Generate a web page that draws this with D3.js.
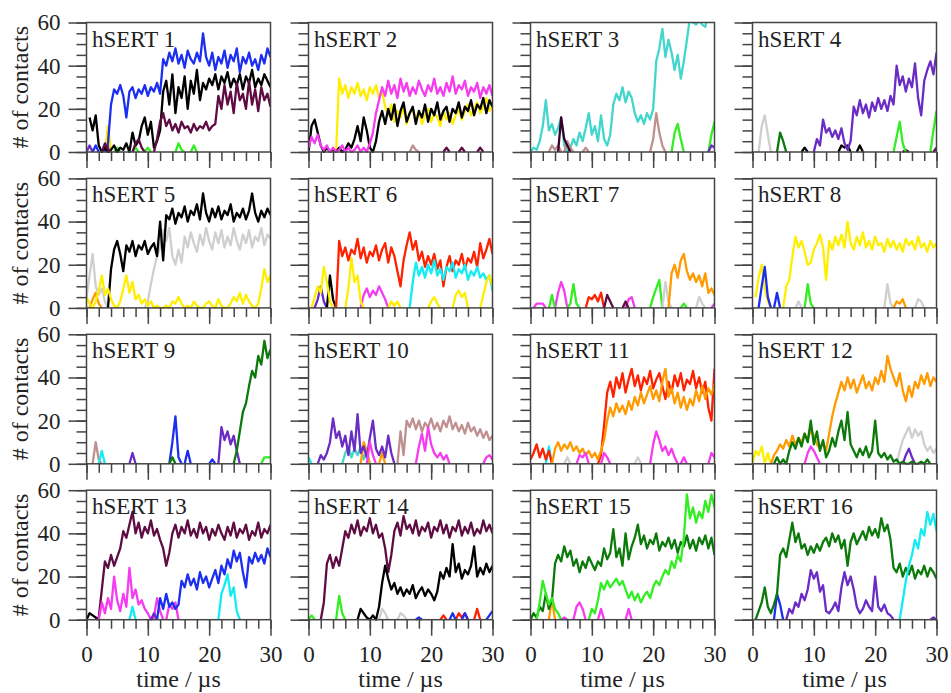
<!DOCTYPE html>
<html>
<head>
<meta charset="utf-8">
<script src="https://cdn.jsdelivr.net/npm/d3@7"></script>
<style>
  body { margin: 0; background: #fff; }
</style>
</head>
<body>
<div id="chart"></div>
<script>
// values, one sample every dt microseconds from a start time
// each series: [colour key, start time (us), values]
var dt = 0.5;

var titles = ["hSERT 1", "hSERT 2", "hSERT 3", "hSERT 4", "hSERT 5", "hSERT 6", "hSERT 7", "hSERT 8",
              "hSERT 9", "hSERT 10", "hSERT 11", "hSERT 12", "hSERT 13", "hSERT 14", "hSERT 15", "hSERT 16"];
var xTicks = [0, 10, 20, 30];
var xMinor = [0, 2, 4, 6, 8, 10, 12, 14, 16, 18, 20, 22, 24, 26, 28, 30];
var yTicks = [0, 20, 40, 60];
var yMinor = [0, 5, 10, 15, 20, 25, 30, 35, 40, 45, 50, 55, 60];

var p1 = [
  ["green", 4.5, [0, 2, 0]], ["green", 7.5, [0, 2, 0]], ["green", 9.5, [0, 2, 0]],
  ["green", 14.5, [0, 4, 1, 0]], ["green", 17, [0, 3, 0]],
  ["purple", 0, [0, 3, 0]], ["purple", 3, [0, 3, 0]],
  ["yellow", 3, [0, 12, 0]],
  ["blue", 1, [0, 3, 0]],
  ["blue", 3, [0, 4, 22, 29, 27, 31, 26, 16, 28, 30, 25, 29, 27, 31, 26, 30, 28, 32, 27, 43,
               40, 46, 42, 48, 41, 45, 39, 47, 43, 41, 46, 42, 55, 44, 40, 46, 38, 44, 41, 47,
               39, 45, 42, 48, 37, 44, 41, 46, 40, 43, 38, 45, 41, 48, 44]],
  ["black", 0.5, [16, 10, 17, 3, 0, 2, 0, 1, 3, 0, 2, 1, 4, 0, 9, 3, 5, 12, 16, 8,
                  14, 2, 5, 10, 28, 33, 22, 36, 18, 30, 25, 35, 20, 33, 27, 38, 24, 32, 29, 34,
                  31, 36, 29, 35, 32, 37, 30, 34, 31, 36, 29, 35, 32, 38, 30, 34, 31, 36, 33, 30]],
  ["maroon", 2.5, [0, 4, 1, 0]], ["maroon", 7.5, [0, 4, 6, 2, 0]],
  ["maroon", 11, [0, 6, 14, 18, 12, 15, 10, 13, 9, 14, 11, 12, 9, 13, 10, 12, 11, 14, 10, 12,
                  13, 26, 20, 31, 22, 28, 18, 32, 24, 27, 20, 33, 22, 29, 19, 30, 24, 27, 21]]
];

var p2 = [
  ["brown", 16.5, [0, 3, 1, 0]],
  ["maroon", 22, [0, 2, 0]], ["maroon", 24.5, [0, 2, 0]], ["maroon", 27.5, [0, 2, 0]],
  ["yellow", 4.5, [0, 34, 27, 31, 25, 30, 27, 32, 26, 29, 24, 30, 27, 31, 25, 28, 21, 17, 22, 14,
                   19, 16, 21, 13, 18, 20, 15, 19, 13, 17, 20, 14, 18, 16, 12, 19, 15, 18, 13, 17,
                   20, 15, 19, 22, 17, 20, 23, 18, 21, 25, 19, 22]],
  ["black", 0, [0, 12, 15, 9, 3, 0, 2, 0, 1, 0, 2, 0, 1, 4, 2, 6, 12, 5, 16, 10,
                2, 0, 5, 14, 19, 13, 20, 15, 22, 12, 19, 23, 14, 18, 21, 13, 19, 16, 22, 14,
                20, 17, 23, 15, 19, 21, 14, 20, 18, 23, 16, 21, 19, 24, 17, 22, 20, 25, 18, 24, 21]],
  ["magenta", 0, [2, 7, 4, 8, 3, 1, 3, 0, 2, 0, 1, 3, 0, 2, 0, 1, 3, 0, 2, 0,
                  4, 9, 18, 24, 30, 26, 33, 27, 31, 25, 34, 28, 32, 26, 30, 27, 33, 29, 26, 31,
                  28, 34, 27, 30, 26, 32, 28, 35, 27, 31, 29, 33, 26, 30, 28, 32, 25, 30, 27, 31, 26]]
];

var p3 = [
  ["turquoise", 0, [0, 2, 1, 5, 12, 24, 10, 13, 8, 11, 16, 3, 0, 2, 6, 3, 9, 5, 11, 18,
                    8, 12, 5, 17, 6, 3, 8, 22, 27, 24, 30, 23, 28, 25, 18, 14, 17, 13, 18, 15,
                    20, 42, 48, 57, 44, 52, 46, 38, 45, 34, 42, 52, 62, 60, 59, 61, 59, 58, 65, 68, 70]],
  ["brown", 3, [0, 3, 1, 3, 0]], ["brown", 5.5, [0, 5, 2, 0]], ["brown", 8.5, [0, 2, 0]],
  ["brown", 19.5, [0, 6, 18, 9, 3, 0]],
  ["darkmaroon", 4.5, [0, 16, 6, 3, 0]],
  ["green", 23, [0, 9, 13, 6, 0]], ["green", 29, [0, 8, 14]],
  ["purple", 29, [0, 3, 2]]
];

var p4 = [
  ["gray", 1, [0, 12, 17, 8, 0]],
  ["darkgreen", 4, [0, 9, 5, 0]],
  ["black", 8, [0, 2, 0]], ["black", 14, [0, 3, 2, 3, 0]], ["black", 17, [0, 3, 0]],
  ["maroon", 24.5, [0, 1, 0]], ["maroon", 29.5, [0, 2]],
  ["purple", 10, [0, 6, 3, 15, 9, 11, 7, 10, 6, 11, 4, 1, 5, 21, 17, 24, 18, 22, 16, 23,
                  19, 25, 20, 24, 19, 26, 22, 40, 31, 35, 28, 34, 30, 41, 25, 17, 33, 38, 42, 36, 46]],
  ["green", 23, [0, 7, 14, 4, 0]], ["green", 29, [0, 10, 19]]
];

var p5 = [
  ["orange", 0.5, [0, 4, 7, 2, 0]],
  ["gray", 0, [5, 15, 25, 10, 6, 9, 3, 0]],
  ["gray", 9.5, [0, 3, 11, 18, 24, 28, 36, 31, 37, 24, 20, 27, 21, 33, 28, 35, 30, 26, 34, 29,
                 37, 31, 27, 35, 30, 36, 28, 33, 29, 37, 31, 27, 34, 30, 36, 28, 33, 31, 37, 29, 34, 32]],
  ["black", 3.5, [0, 18, 27, 31, 25, 17, 29, 26, 31, 24, 29, 27, 31, 25, 28, 30, 24, 40, 22, 43,
                  41, 46, 39, 44, 42, 47, 40, 45, 43, 48, 41, 53, 44, 40, 46, 42, 47, 41, 45, 43,
                  48, 40, 44, 42, 46, 41, 45, 53, 44, 40, 45, 42, 46, 43]],
  ["yellow", 0, [5, 2, 0, 3, 8, 15, 6, 9, 4, 1, 0, 3, 9, 15, 7, 12, 4, 6, 2, 4,
                 1, 3, 0, 1, 0, 0, 1, 0, 3, 2, 5, 2, 0, 1, 0, 3, 1, 0, 0, 2,
                 3, 1, 0, 4, 1, 0, 0, 2, 5, 3, 7, 2, 6, 3, 1, 0, 2, 9, 18, 12, 15]]
];

var p6 = [
  ["purple", 1, [0, 4, 10, 3, 0]],
  ["black", 3, [0, 15, 4, 0]],
  ["magenta", 8.5, [0, 6, 9, 5, 8, 6, 10, 7, 4, 0]],
  ["red", 4.5, [0, 31, 24, 28, 22, 27, 25, 32, 23, 28, 21, 26, 24, 29, 22, 27, 30, 21, 28, 24,
                17, 10, 22, 29, 35, 27, 31, 22, 26, 19, 24, 20, 25, 18, 22, 10, 19, 24, 17, 22,
                20, 25, 18, 23, 21, 26, 19, 30, 23, 27, 32, 25]],
  ["cyan", 16.5, [0, 12, 21, 15, 19, 14, 20, 16, 22, 15, 18, 13, 19, 17, 21, 14, 18, 16, 20, 13,
                  17, 15, 19, 14, 16, 13, 15, 8]],
  ["yellow", 0.5, [0, 5, 10, 7, 19, 12, 3, 0]], ["yellow", 6, [0, 9, 23, 12, 15, 3, 0]],
  ["yellow", 13, [0, 3, 1, 3, 0]], ["yellow", 19.5, [0, 3, 5, 2, 0]],
  ["yellow", 23.5, [0, 6, 8, 5, 7, 0]], ["yellow", 28, [0, 6, 12, 15, 10]]
];

var p7 = [
  ["magenta", 0.5, [0, 2, 2, 2, 0]], ["magenta", 4, [0, 7, 12, 8, 0]],
  ["magenta", 15.5, [0, 4, 5, 0]], ["magenta", 29.5, [0, 2]],
  ["green", 3, [0, 6, 0]], ["green", 6, [0, 2, 11, 2, 0]], ["green", 19.5, [0, 5, 9, 13, 0]],
  ["green", 24.5, [0, 2, 0]],
  ["red", 9, [0, 5, 4, 6, 3, 7, 0]],
  ["maroon", 12, [0, 6, 3, 0]], ["maroon", 15, [0, 3, 0]],
  ["gray", 21.5, [0, 12, 3, 0]], ["gray", 27, [0, 5, 2, 0]],
  ["orange", 22.5, [0, 16, 20, 14, 22, 25, 17, 13, 16, 12, 15, 10, 16, 7, 9, 6]]
];

var p8 = [
  ["gray", 7, [0, 3, 0]], ["gray", 21.5, [0, 11, 2, 0]], ["gray", 26.5, [0, 4, 3, 0]],
  ["orange", 23, [0, 3, 2, 4, 0]],
  ["green", 8.5, [0, 11, 2, 0]],
  ["yellow", 0.5, [5, 14, 20, 9, 3, 0]],
  ["yellow", 5, [0, 10, 13, 24, 33, 28, 31, 26, 20, 21, 27, 30, 34, 28, 13, 31, 27, 33, 29, 34,
                 28, 40, 30, 27, 33, 29, 35, 28, 31, 27, 33, 29, 30, 26, 32, 28, 31, 27, 30, 26,
                 32, 29, 31, 27, 33, 28, 30, 26, 31, 28, 30]],
  ["blue", 1, [0, 10, 19, 5, 0]], ["blue", 3.5, [0, 7, 0]]
];

var p9 = [
  ["brown", 1, [0, 10, 2, 0]],
  ["cyan", 2, [0, 6, 0]],
  ["purple", 7, [0, 5, 0]],
  ["purple", 21.5, [0, 17, 11, 15, 9, 13, 6, 0]],
  ["blue", 13.5, [0, 10, 22, 3, 0]], ["blue", 16, [0, 6, 0]], ["blue", 20, [0, 2, 0]],
  ["darkgreen", 13.5, [0, 3, 0]],
  ["darkgreen", 24, [0, 6, 15, 24, 28, 36, 43, 40, 50, 46, 57, 49, 53]],
  ["green", 28.5, [0, 3, 3, 3]]
];

var p10 = [
  ["cyan", 0, [3, 0]],
  ["turquoise", 5.5, [0, 5, 8, 3, 7, 4, 8, 2, 6, 0]],
  ["orange", 8.5, [0, 10, 6, 0]], ["orange", 11.5, [0, 5, 0]],
  ["purple", 1.5, [0, 4, 2, 5, 10, 21, 12, 15, 8, 13, 4, 15, 6, 23, 5, 8, 3, 12, 20, 7,
                   4, 8, 3, 13, 5, 0]],
  ["magenta", 9.5, [0, 10, 4, 0]],
  ["brown", 14.5, [0, 15, 4, 20, 17, 21, 16, 20, 15, 19, 17, 21, 16, 19, 15, 20, 17, 22, 16, 19,
                   15, 18, 14, 19, 15, 17, 13, 16, 12, 15, 11, 13]],
  ["magenta", 17.5, [0, 8, 14, 6, 17, 9, 5, 3, 5, 2, 4, 0]], ["magenta", 28.5, [0, 3, 4, 2]]
];

var p11 = [
  ["cyan", 2.5, [0, 8, 0]],
  ["gray", 5.5, [0, 3, 0]], ["gray", 17, [0, 3, 0]],
  ["red", 0, [2, 5, 9, 3, 7, 2, 6, 0]],
  ["red", 11, [0, 4, 18, 33, 38, 31, 40, 35, 42, 33, 39, 44, 36, 41, 34, 40, 37, 43, 35, 39,
               42, 36, 30, 38, 33, 41, 36, 42, 34, 39, 37, 43, 35, 40, 33, 38, 26, 20, 44]],
  ["orange", 3.5, [0, 7, 10, 6, 9, 7, 10, 6, 8, 5, 7, 4, 6, 3, 5, 2, 6, 11, 20, 26,
                   22, 28, 24, 27, 23, 29, 25, 31, 27, 33, 28, 32, 36, 30, 34, 29, 38, 44, 31, 35,
                   28, 33, 26, 31, 25, 30, 27, 34, 29, 36, 30, 35, 32, 37]],
  ["magenta", 7.5, [0, 4, 3, 5, 0]], ["magenta", 11.5, [0, 5, 3, 0]],
  ["magenta", 19.5, [0, 9, 15, 11, 6, 8, 4, 7, 3, 0]], ["magenta", 24.5, [0, 3, 0]],
  ["magenta", 29, [0, 5, 3]]
];

var p12 = [
  ["yellow", 0, [0, 6, 4, 8, 0]], ["yellow", 2, [0, 5, 0]],
  ["purple", 24.5, [0, 4, 7, 3, 0]],
  ["gray", 23.5, [0, 6, 11, 14, 17, 12, 16, 13, 15, 9, 6, 8, 5, 7]],
  ["orange", 3, [0, 4, 6, 9, 7, 11, 8, 13, 9, 12, 10, 14, 11, 16, 13, 9, 7, 10, 6, 14,
                 22, 28, 33, 38, 34, 40, 35, 39, 33, 37, 41, 35, 38, 34, 40, 37, 43, 38, 50, 44,
                 40, 36, 42, 34, 29, 36, 31, 38, 35, 41, 37, 42, 36, 40, 38]],
  ["magenta", 8.5, [0, 5, 8, 6, 3, 0]],
  ["darkgreen", 3.5, [0, 3, 0, 2, 0, 6, 10, 7, 12, 8, 14, 10, 20, 9, 15, 6, 11, 3, 6, 12,
                      8, 15, 20, 11, 24, 9, 6, 3, 7, 4, 8, 3, 6, 20, 5, 3, 5, 2, 4, 1,
                      2, 0, 1, 0, 0, 1, 0, 0, 1, 0, 2, 0]]
];

var p13 = [
  ["black", 0, [0, 3, 2, 1, 0]],
  ["maroon", 1.5, [0, 1, 14, 27, 24, 30, 25, 29, 33, 41, 38, 44, 50, 40, 45, 38, 43, 40, 46, 39,
                   42, 37, 33, 25, 31, 40, 44, 38, 43, 40, 46, 39, 42, 38, 45, 40, 43, 37, 42, 39,
                   44, 40, 37, 43, 39, 45, 38, 42, 40, 44, 37, 41, 39, 45, 38, 42, 40, 44]],
  ["magenta", 2, [0, 8, 3, 10, 5, 20, 9, 4, 12, 6, 24, 10, 14, 7, 9, 5, 3, 0, 1, 10, 4, 0]],
  ["magenta", 13, [0, 7, 5, 8, 0]],
  ["purple", 10.5, [0, 3, 0]],
  ["cyan", 7, [0, 6, 0]],
  ["blue", 11.5, [0, 10, 5, 12, 6, 8, 5, 7, 18, 15, 21, 16, 19, 14, 22, 17, 20, 15, 19, 23,
                  17, 25, 21, 28, 24, 32, 27, 31, 22, 15, 29, 26, 31, 27, 30, 26, 33, 29]],
  ["cyan", 21.5, [0, 12, 16, 21, 11, 15, 4, 0]]
];

var p14 = [
  ["green", 0, [0, 2, 0]], ["green", 4.5, [0, 11, 3, 0]],
  ["gray", 11.5, [0, 5, 3, 0]], ["gray", 14.5, [0, 3, 2, 0]],
  ["red", 21.5, [0, 2, 0]], ["red", 24, [0, 3, 1, 3, 0]], ["red", 27, [0, 5, 0]],
  ["blue", 17.5, [0, 1, 0]], ["blue", 23, [0, 3, 0]], ["blue", 25, [0, 3, 0]], ["blue", 29, [0, 2, 4]],
  ["maroon", 2, [0, 8, 26, 30, 24, 29, 25, 33, 41, 38, 44, 40, 46, 39, 43, 41, 47, 40, 44, 38,
                 40, 33, 22, 30, 41, 45, 39, 48, 42, 44, 40, 46, 39, 43, 41, 45, 38, 43, 41, 46,
                 40, 44, 38, 43, 41, 46, 39, 43, 40, 45, 39, 42, 40, 46, 41, 44, 40]],
  ["black", 8, [0, 5, 3, 1, 0, 2, 0, 6, 17, 25, 19, 14, 17, 12, 15, 11, 14, 12, 16, 10,
                13, 15, 11, 14, 12, 9, 13, 22, 19, 24, 20, 35, 22, 26, 19, 23, 21, 25, 34, 20,
                24, 21, 26, 22, 25]]
];

var p15 = [
  ["orange", 3, [0, 10, 0]],
  ["magenta", 5, [0, 1, 0]], ["magenta", 7, [0, 6, 8, 5, 0]], ["magenta", 11, [0, 5, 0]],
  ["magenta", 15.5, [0, 5, 0]],
  ["darkgreen", 0, [0, 3, 1, 6, 4, 12, 5, 9, 26, 30, 27, 34, 29, 32, 25, 28, 22, 27, 24, 29,
                    26, 23, 27, 25, 33, 28, 31, 42, 29, 33, 25, 40, 28, 34, 38, 44, 35, 39, 33, 37,
                    35, 40, 32, 36, 34, 38, 33, 37, 31, 36, 34, 39, 33, 37, 32, 38, 35, 39, 33, 38, 30]],
  ["green", 1, [0, 8, 18, 12, 7, 10, 5, 3, 0]],
  ["green", 9.5, [0, 5, 3, 9, 17, 14, 18, 15, 17, 19, 16, 18, 14, 10, 13, 9, 12, 8, 11, 13,
                  10, 15, 18, 16, 20, 23, 21, 27, 24, 30, 27, 38, 58, 47, 52, 45, 50, 47, 55, 50,
                  58, 52]]
];

var p16 = [
  ["blue", 3.5, [0, 12, 7, 0]],
  ["darkgreen", 0.5, [0, 4, 8, 15, 6, 3, 7, 12, 30, 33, 29, 37, 45, 36, 40, 33, 35, 30, 34, 31,
                      35, 32, 36, 38, 34, 40, 36, 39, 33, 37, 25, 36, 40, 35, 38, 41, 37, 43, 39, 42,
                      38, 47, 41, 44, 37, 24, 22, 26, 20, 24, 21, 25, 19, 23, 21, 25, 20, 24, 22, 19]],
  ["purple", 5.5, [0, 5, 3, 8, 6, 12, 9, 14, 23, 19, 22, 13, 16, 4, 3, 5, 8, 4, 15, 22,
                   16, 20, 14, 6, 3, 5, 9, 6, 4, 20, 6, 4, 7, 3, 2, 0]],
  ["purple", 29, [0, 1, 0]],
  ["cyan", 24, [0, 9, 18, 25, 30, 37, 33, 42, 39, 50, 44, 49, 41]]
];

var panels = [p1, p2, p3, p4, p5, p6, p7, p8, p9, p10, p11, p12, p13, p14, p15, p16];

var colors = {
  blue: "#1c2ff0", black: "#000000", maroon: "#5e0c42", darkmaroon: "#3a0028",
  yellow: "#ffee00", green: "#33ee22", darkgreen: "#0b7a0b", purple: "#6a2cc4",
  magenta: "#f53cf0", turquoise: "#42d6cc", cyan: "#12ecf2", brown: "#c09090",
  gray: "#cfcfcf", orange: "#ff9a00", red: "#ff2200"
};

var width = 951, height = 693;
var left0 = 86.5, top0 = 22.5, colStep = 222, rowStep = 155.9;
var plotW = 184, plotH = 129.5;
var axisColor = "#444";
var serif = "'Liberation Serif', 'DejaVu Serif', 'Noto Serif', 'Nimbus Roman', FreeSerif, Times, serif";

var svg = d3.select("#chart").append("svg")
  .attr("width", width)
  .attr("height", height)
  .style("font-family", serif);

panels.forEach(function(series, k) {
  var col = k % 4, row = Math.floor(k / 4);
  var px = left0 + col * colStep, py = top0 + row * rowStep;

  var x = d3.scaleLinear().domain([0, 30]).range([px, px + plotW]);
  var y = d3.scaleLinear().domain([0, 60]).range([py + plotH, py]);

  svg.append("clipPath").attr("id", "clip" + k)
    .append("rect")
    .attr("x", px).attr("y", py)
    .attr("width", plotW).attr("height", plotH + 1);

  var line = d3.line()
    .x(function(d) { return x(d[0]); })
    .y(function(d) { return y(d[1]); });

  var g = svg.append("g").attr("clip-path", "url(#clip" + k + ")");
  series.forEach(function(s) {
    var pts = s[2].map(function(v, i) { return [s[1] + i * dt, v]; });
    g.append("path")
      .attr("d", line(pts))
      .attr("fill", "none")
      .attr("stroke", colors[s[0]])
      .attr("stroke-width", 2.3)
      .attr("stroke-linejoin", "round");
  });

  // y axis: minor then major ticks, labels on first column only
  var yMin = svg.append("g")
    .attr("transform", "translate(" + px + ",0)")
    .call(d3.axisLeft(y).tickValues(yMinor).tickSize(10).tickSizeOuter(0).tickFormat(""));
  var yMaj = svg.append("g")
    .attr("transform", "translate(" + px + ",0)")
    .call(d3.axisLeft(y).tickValues(yTicks).tickSize(18).tickSizeOuter(0).tickPadding(8)
      .tickFormat(col === 0 ? d3.format("d") : function() { return ""; }));

  var xMin = svg.append("g")
    .attr("transform", "translate(0," + (py + plotH) + ")")
    .call(d3.axisBottom(x).tickValues(xMinor).tickSize(9).tickSizeOuter(0).tickFormat(""));
  var xMaj = svg.append("g")
    .attr("transform", "translate(0," + (py + plotH) + ")")
    .call(d3.axisBottom(x).tickValues(xTicks).tickSize(16).tickSizeOuter(0).tickPadding(10)
      .tickFormat(row === 3 ? d3.format("d") : function() { return ""; }));

  [yMin, yMaj, xMin, xMaj].forEach(function(a) {
    a.attr("font-family", serif).attr("font-size", 23);
    a.select(".domain").remove();
    a.selectAll(".tick line").attr("stroke", axisColor).attr("stroke-width", 1.5);
    a.selectAll("text").attr("fill", "#222");
  });

  svg.append("rect")
    .attr("x", px).attr("y", py)
    .attr("width", plotW).attr("height", plotH)
    .attr("fill", "none")
    .attr("stroke", axisColor)
    .attr("stroke-width", 1.5);

  svg.append("text")
    .attr("x", px + 5.5)
    .attr("y", py + 24)
    .attr("font-family", serif)
    .attr("font-size", 23)
    .attr("fill", "#222")
    .text(titles[k]);

  if (col === 0) {
    svg.append("text")
      .attr("transform", "translate(28," + (py + plotH / 2) + ") rotate(-90)")
      .attr("text-anchor", "middle")
      .attr("font-family", serif)
      .attr("font-size", 24)
      .attr("fill", "#222")
      .text("# of contacts");
  }
  if (row === 3) {
    svg.append("text")
      .attr("x", px + plotW / 2)
      .attr("y", 687)
      .attr("text-anchor", "middle")
      .attr("font-family", serif)
      .attr("font-size", 24)
      .attr("fill", "#222")
      .text("time / µs");
  }
});
</script>
</body>
</html>
